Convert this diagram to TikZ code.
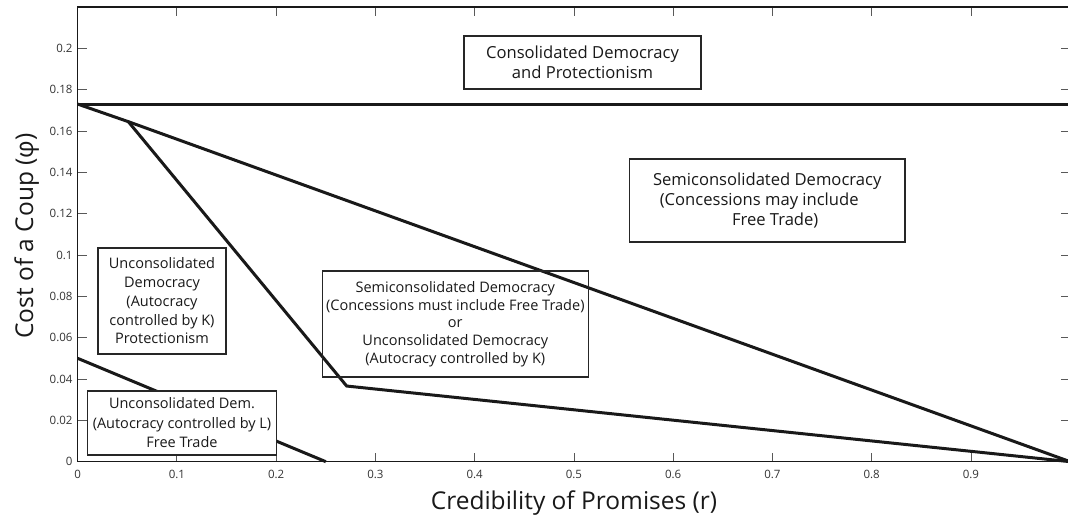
\documentclass[tikz,border=0pt]{standalone}
\usepackage{fontspec}
\setmainfont{Open Sans}
\begin{document}
\begin{tikzpicture}[x=1pt,y=1pt,
  frame/.style={line width=1.4pt, draw=black!90},
  tickmark/.style={line width=0.9pt, draw=black!65},
  ticklabel/.style={inner sep=0pt, text=black!80, font=\fontsize{11.5}{13}\selectfont},
  dataline/.style={line width=3pt, draw=black!90},
  regionbox/.style={draw=black!85, line width=1.2pt, align=center, inner sep=0pt, text=black!90, font=\fontsize{14.5}{19}\selectfont},
  bigbox/.style={regionbox, fill=white, font=\fontsize{16.6}{19.5}\selectfont},
  axislabel/.style={inner sep=0pt, text=black!90, font=\fontsize{24.5}{30}\selectfont}]
\useasboundingbox (0,0) rectangle (1068,519);
\begin{scope}[shift={(77.7pt,57.3pt)}, x=992.5pt, y=2067pt]
  \coordinate (o) at (0,0.173);
  \coordinate (h) at (1,0.173);
  \coordinate (k1) at (0.051,0.1645);
  \coordinate (k2) at (0.271,0.0366);
  \coordinate (e) at (1,0);
  \coordinate (l0) at (0,0.05);
  \coordinate (l1) at (0.25,0);
  % ticks
  \foreach \i in {1,...,9}{
    \draw[tickmark] (\i/10,0) -- ++(0,9pt);
    \draw[tickmark] (\i/10,0.22) -- ++(0,-9pt);
    \node[ticklabel] (xt\i) at (\i/10,0) [yshift=-12.5pt] {0.\i};
  }
  \node[ticklabel] (xt0) at (0,0) [yshift=-12.5pt] {0};
  \foreach \y in {0.02,0.04,0.06,0.08,0.1,0.12,0.14,0.16,0.18,0.2}{
    \draw[tickmark] (0,\y) -- ++(9pt,0);
    \draw[tickmark] (1,\y) -- ++(-9pt,0);
  }
  \foreach \y/\t [count=\n] in {0/0,0.02/0.02,0.04/0.04,0.06/0.06,0.08/0.08,0.1/0.1,0.12/0.12,0.14/0.14,0.16/0.16,0.18/0.18,0.2/0.2}{
    \node[ticklabel, anchor=east] (yt\n) at (0,\y) [xshift=-5pt] {\t};
  }
  % frame
  \draw[frame] (0,0) rectangle (1,0.22);
  % boundaries
  \draw[dataline] (o) -- (h);
  \draw[dataline] (o) -- (k1) -- (e);
  \draw[dataline] (k1) -- (k2) -- (e);
  \draw[dataline] (l0) -- (l1);
\end{scope}
% region labels
\node[bigbox, minimum width=237pt, minimum height=53pt] (cons) at (582.5,456.5)
  {Consolidated Democracy\\and Protectionism};
\node[bigbox, font=\fontsize{16.6}{20.3}\selectfont, minimum width=275.7pt, minimum height=83pt] (semimay) at (767.2,318.5)
  {Semiconsolidated Democracy\\(Concessions may include\rule{16pt}{0pt}\\\rule{16pt}{0pt}Free Trade)};
\node[regionbox, minimum width=266pt, minimum height=106pt, font=\fontsize{14.5}{17.75}\selectfont] (semimust) at (455.3,195)
  {Semiconsolidated Democracy\\(Concessions must include Free Trade)\\or\\Unconsolidated Democracy\\(Autocracy controlled by K)};
\node[regionbox, fill=white, minimum width=128pt, minimum height=106pt, font=\fontsize{14.5}{18.75}\selectfont] (unconK) at (162,218)
  {Unconsolidated\\Democracy\\(Autocracy\\controlled by K)\\Protectionism};
\node[regionbox, fill=white, minimum width=189.4pt, minimum height=64pt, font=\fontsize{14.5}{19.5}\selectfont] (unconL) at (182,96)
  {Unconsolidated Dem.\\(Autocracy controlled by L)\\Free Trade};
% axis labels
\node[axislabel, anchor=base] (xlab) at (574,9) {Credibility of Promises (r)};
\node[axislabel, anchor=base, rotate=90] (ylab) at (33,283) {Cost of a Coup (φ)};
\end{tikzpicture}
\end{document}
